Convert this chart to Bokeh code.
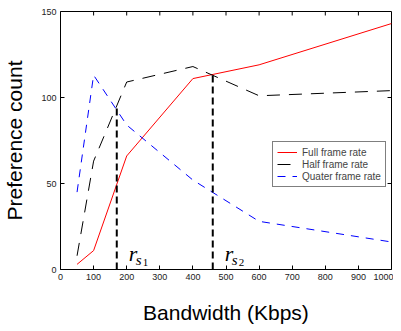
from bokeh.plotting import figure
from bokeh.models import FixedTicker, Legend, LegendItem, Label, Range1d
from bokeh.embed import file_html
from bokeh.resources import INLINE

bandwidth = [50, 100, 200, 400, 600, 1000]
full_rate = [3, 11, 66, 111, 119, 143]
half_rate = [8, 63, 109, 118, 101, 104]
quarter_rate = [45, 113, 84, 52, 28, 16]
rs_x = [170, 460]
rs_top = [94, 113]
rs_sub = ["1", "2"]
x_ticks = list(range(0, 1001, 100))
y_ticks = [0, 50, 100, 150]

SANS = "Liberation Sans"
SERIF = "Liberation Serif"

X0, X1, Y0, Y1 = 0, 1000, 0, 150
W, H = 393, 326
BL, BR, BT, BB = 57, 2, 11, 56
frame_w = W - BL - BR
frame_h = H - BT - BB

p = figure(width=W, height=H, x_range=Range1d(X0, X1), y_range=Range1d(Y0, Y1),
           output_backend="svg", toolbar_location=None,
           min_border_left=BL, min_border_right=BR, min_border_top=BT, min_border_bottom=BB,
           x_axis_label="Bandwidth (Kbps)", y_axis_label="Preference count")
p.grid.visible = False
p.outline_line_color = "black"
p.outline_line_width = 1
p.background_fill_color = "white"

for ax in (p.xaxis[0], p.yaxis[0]):
    ax.axis_line_color = None
    ax.major_tick_in = 4
    ax.major_tick_out = 0
    ax.minor_tick_line_color = None
    ax.major_label_text_font = SANS
    ax.major_label_text_font_size = "9px"
    ax.major_label_text_color = "#222222"
    ax.axis_label_text_font = SANS
    ax.axis_label_text_font_size = "21px"
    ax.axis_label_text_font_style = "normal"
    ax.axis_label_text_color = "black"
    ax.major_label_standoff = 4
p.xaxis[0].ticker = FixedTicker(ticks=x_ticks)
p.yaxis[0].ticker = FixedTicker(ticks=y_ticks)
p.xaxis[0].axis_label_standoff = 18
p.yaxis[0].axis_label_standoff = 12

# inward ticks on the top and right edges of the box
tick_dy = 4 * (Y1 - Y0) / frame_h
tick_dx = 4 * (X1 - X0) / frame_w
inner_x = [t for t in x_ticks if X0 < t < X1]
inner_y = [t for t in y_ticks if Y0 < t < Y1]
p.segment(x0=inner_x, y0=[Y1] * len(inner_x), x1=inner_x, y1=[Y1 - tick_dy] * len(inner_x),
          line_color="black", line_width=1)
p.segment(x0=[X1] * len(inner_y), y0=inner_y, x1=[X1 - tick_dx] * len(inner_y), y1=inner_y,
          line_color="black", line_width=1)

r_full = p.line(bandwidth, full_rate, line_color="red", line_width=1)
r_half = p.line(bandwidth, half_rate, line_color="black", line_width=1, line_dash="13 9")
r_quarter = p.line(bandwidth, quarter_rate, line_color="blue", line_width=1, line_dash="8 7")

p.segment(x0=rs_x, y0=[Y0] * len(rs_x), x1=rs_x, y1=rs_top,
          line_color="black", line_width=2, line_dash="7 4")

for xv, sub in zip(rs_x, rs_sub):
    p.add_layout(Label(x=xv, y=Y0, x_offset=12, y_offset=16, text="r",
                       text_font=SERIF, text_font_style="italic", text_font_size="22px",
                       text_baseline="alphabetic", text_color="black"))
    p.add_layout(Label(x=xv, y=Y0, x_offset=19, y_offset=10, text="s",
                       text_font=SERIF, text_font_style="italic", text_font_size="15px",
                       text_baseline="alphabetic", text_color="black"))
    p.add_layout(Label(x=xv, y=Y0, x_offset=26, y_offset=7, text=sub,
                       text_font=SERIF, text_font_size="11px",
                       text_baseline="alphabetic", text_color="black"))

legend = Legend(items=[LegendItem(label="Full frame rate", renderers=[r_full]),
                       LegendItem(label="Half frame rate", renderers=[r_half]),
                       LegendItem(label="Quater frame rate", renderers=[r_quarter])],
                location=(frame_w - 8 - 114, 82), margin=0, padding=4, spacing=0,
                label_text_font=SANS, label_text_font_size="10px",
                label_height=12, glyph_height=12, glyph_width=20, label_standoff=5,
                border_line_color="black", border_line_width=1,
                background_fill_color="white", background_fill_alpha=1)
p.add_layout(legend)

open("out.html", "w").write(file_html(p, INLINE))
